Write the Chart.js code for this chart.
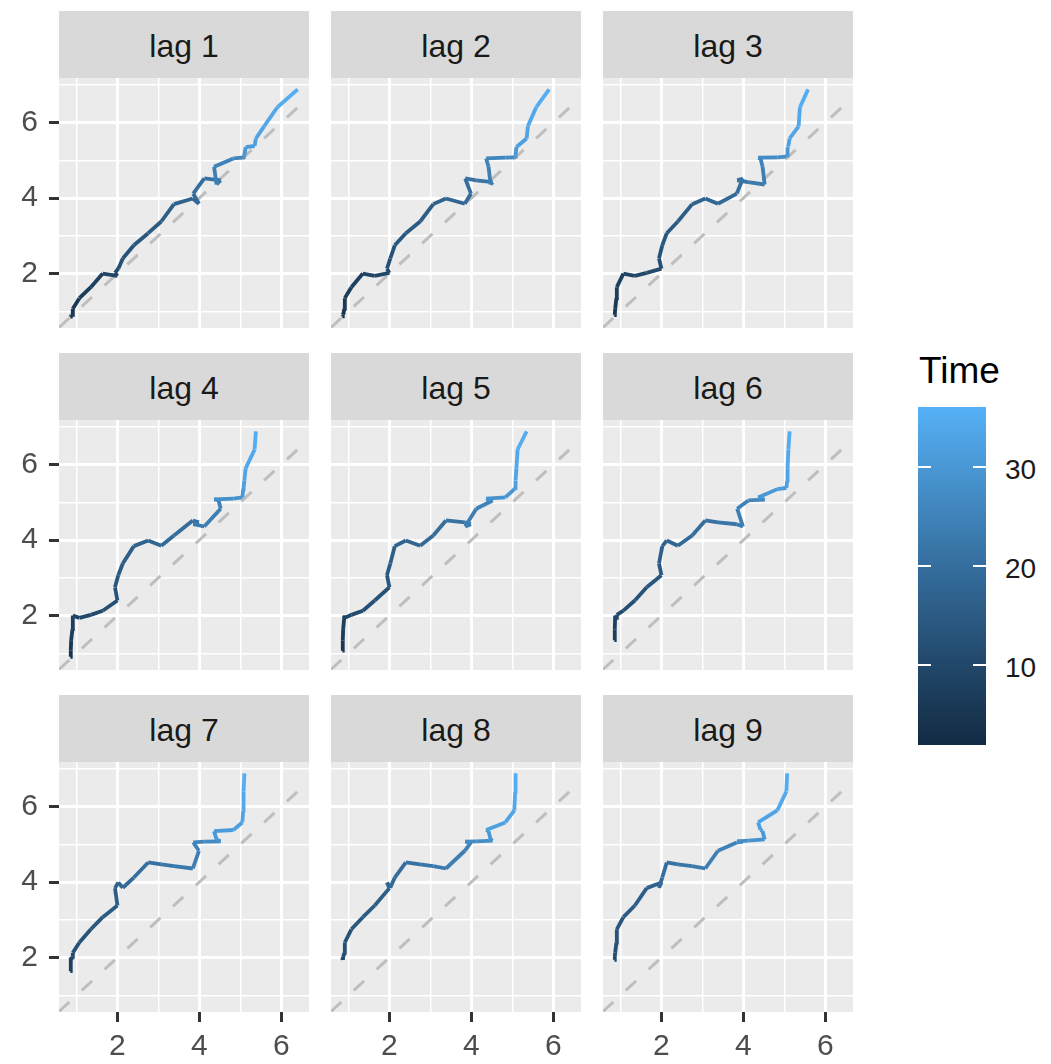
<!DOCTYPE html>
<html>
<head>
<meta charset="utf-8">
<script src="https://cdn.jsdelivr.net/npm/chart.js@4.4.1/dist/chart.umd.min.js"></script>
<style>
  body { margin: 0; background: #fff; }
  #figure { position: relative; width: 1051px; height: 1064px; overflow: hidden; font-family: "Liberation Sans", Arial, sans-serif; }
  .panel { position: absolute; }
  .strip { position: absolute; background: #D9D9D9; color: #1A1A1A; font-size: 32px; text-align: center; box-sizing: border-box; }
  .legend-title { position: absolute; font-size: 37px; line-height: 37px; color: #000; }
  .legend-bar { position: absolute; }
  .legend-tick { position: absolute; height: 2px; background: #fff; }
  .legend-label { position: absolute; font-size: 28px; line-height: 28px; color: #1A1A1A; }
</style>
</head>
<body>
<div id="figure"></div>
<script>
// Data
const timeIndex = [1, 2, 3, 4, 5, 6, 7, 8, 9, 10, 11, 12, 13, 14, 15, 16, 17, 18,
  19, 20, 21, 22, 23, 24, 25, 26, 27, 28, 29, 30, 31, 32, 33, 34, 35, 36];
const series = [0.85, 0.86, 0.87, 0.90, 0.91, 1.07, 1.35, 1.64, 2.00, 1.94, 2.02, 2.13,
  2.40, 2.75, 3.07, 3.38, 3.84, 3.99, 3.85, 4.12, 4.52, 4.47, 4.42, 4.36,
  4.83, 5.05, 5.07, 5.08, 5.10, 5.13, 5.35, 5.38, 5.58, 5.90, 6.40, 6.88];
const lags = [1, 2, 3, 4, 5, 6, 7, 8, 9];
const axisBreaks = [2, 4, 6];
const minorBreaks = [1, 3, 5, 7];
const legendBreaks = [10, 20, 30];
const legendTitle = "Time";

// Layout
const COL_LEFT = [59, 331, 603];
const ROW_TOP = [78, 420, 762];
const PANEL_W = 250;
const PANEL_H = 250;
const STRIP_H = 67;
const Y_AXIS_W = 59;
const X_AXIS_H = 52;
const LOW = "#132B43";
const HIGH = "#56B1F7";

Chart.defaults.font.family = '"Liberation Sans", Arial, sans-serif';

// Colour helpers (ggplot gradient is interpolated in Lab)
const lin = (c) => (c <= 0.04045 ? c / 12.92 : Math.pow((c + 0.055) / 1.055, 2.4));
const unlin = (c) => (c <= 0.0031308 ? 12.92 * c : 1.055 * Math.pow(c, 1 / 2.4) - 0.055);
const toLab = (hex) => {
  const [r, g, b] = [1, 3, 5].map((i) => lin(parseInt(hex.slice(i, i + 2), 16) / 255));
  const X = (0.4124564 * r + 0.3575761 * g + 0.1804375 * b) / 0.95047;
  const Y = 0.2126729 * r + 0.7151522 * g + 0.072175 * b;
  const Z = (0.0193339 * r + 0.119192 * g + 0.9503041 * b) / 1.08883;
  const f = (t) => (t > 216 / 24389 ? Math.cbrt(t) : (24389 / 27 * t + 16) / 116);
  return [116 * f(Y) - 16, 500 * (f(X) - f(Y)), 200 * (f(Y) - f(Z))];
};
const fromLab = ([L, a, bb]) => {
  const fy = (L + 16) / 116;
  const fx = fy + a / 500;
  const fz = fy - bb / 200;
  const inv = (t) => (t ** 3 > 216 / 24389 ? t ** 3 : (116 * t - 16) / (24389 / 27));
  const X = inv(fx) * 0.95047, Y = inv(fy), Z = inv(fz) * 1.08883;
  const rgb = [
    3.2404542 * X - 1.5371385 * Y - 0.4985314 * Z,
    -0.969266 * X + 1.8760108 * Y + 0.041556 * Z,
    0.0556434 * X - 0.2040259 * Y + 1.0572252 * Z
  ];
  return `rgb(${rgb.map((c) => Math.round(Math.min(1, Math.max(0, unlin(c))) * 255)).join(",")})`;
};
const lowLab = toLab(LOW);
const highLab = toLab(HIGH);

// Lag pairs: x = value at t, y = value at t + lag, coloured by time of y
const lagPairs = (lag) => series.slice(0, series.length - lag).map((v, i) => ({
  x: v, y: series[i + lag], time: timeIndex[i + lag]
}));
const panels = lags.map((lag) => ({ lag, points: lagPairs(lag) }));

const allPoints = panels.flatMap((p) => p.points);
const expand = (vals) => {
  const lo = Math.min(...vals), hi = Math.max(...vals);
  const pad = (hi - lo) * 0.05;
  return [lo - pad, hi + pad];
};
const xLim = expand(allPoints.map((p) => p.x));
const yLim = expand(allPoints.map((p) => p.y));
const timeLim = [Math.min(...allPoints.map((p) => p.time)), Math.max(...allPoints.map((p) => p.time))];

const colourAt = (v) => {
  const t = (v - timeLim[0]) / (timeLim[1] - timeLim[0]);
  return fromLab(lowLab.map((c, i) => c + (highLab[i] - c) * t));
};

const isMajor = (v) => axisBreaks.includes(v);
const gridTicks = (scale) => [...minorBreaks, ...axisBreaks]
  .filter((v) => v >= scale.min && v <= scale.max)
  .sort((a, b) => a - b)
  .map((v) => ({ value: v }));

const panelBg = {
  id: "panelBg",
  beforeDraw(chart) {
    const { ctx, chartArea: a } = chart;
    ctx.save();
    ctx.fillStyle = "#EBEBEB";
    ctx.fillRect(a.left, a.top, a.right - a.left, a.bottom - a.top);
    ctx.restore();
  }
};

const fig = document.getElementById("figure");

const axisOptions = (lim, showLabels, fitSize, horizontal) => ({
  type: "linear",
  min: lim[0],
  max: lim[1],
  afterBuildTicks: (s) => { s.ticks = gridTicks(s); },
  afterFit: (s) => {
    if (horizontal) s.height = fitSize; else s.width = fitSize;
    s.paddingTop = 0;
    s.paddingBottom = 0;
    s.paddingLeft = 0;
    s.paddingRight = 0;
  },
  border: { display: false },
  grid: {
    color: "#FFFFFF",
    lineWidth: (ctx) => (isMajor(ctx.tick.value) ? 3 : 1.5),
    drawTicks: showLabels,
    tickLength: 10,
    tickWidth: 3,
    tickColor: (ctx) => (isMajor(ctx.tick.value) ? "#333333" : "rgba(0,0,0,0)")
  },
  ticks: {
    display: showLabels,
    autoSkip: false,
    maxRotation: 0,
    padding: horizontal ? 7 : 11,
    color: "#4D4D4D",
    font: { size: 30 },
    callback: (v) => (isMajor(v) ? String(v) : "")
  }
});

panels.forEach((panel, idx) => {
  const r = Math.floor(idx / 3);
  const c = idx % 3;
  const left = c === 0 ? COL_LEFT[0] - Y_AXIS_W : COL_LEFT[c];
  const w = PANEL_W + (c === 0 ? Y_AXIS_W : 0);
  const h = PANEL_H + (r === 2 ? X_AXIS_H : 0);

  const strip = document.createElement("div");
  strip.className = "strip";
  strip.style.left = `${COL_LEFT[c]}px`;
  strip.style.top = `${ROW_TOP[r] - STRIP_H}px`;
  strip.style.width = `${PANEL_W}px`;
  strip.style.height = `${STRIP_H}px`;
  strip.style.lineHeight = `${STRIP_H}px`;
  strip.style.paddingTop = "2px";
  strip.textContent = `lag ${panel.lag}`;
  fig.appendChild(strip);

  const box = document.createElement("div");
  box.className = "panel";
  box.style.left = `${left}px`;
  box.style.top = `${ROW_TOP[r]}px`;
  const canvas = document.createElement("canvas");
  canvas.width = w;
  canvas.height = h;
  canvas.style.width = `${w}px`;
  canvas.style.height = `${h}px`;
  box.appendChild(canvas);
  fig.appendChild(box);

  const segColours = panel.points.map((p) => colourAt(p.time));

  new Chart(canvas.getContext("2d"), {
    type: "scatter",
    data: {
      datasets: [
        {
          label: `lag ${panel.lag}`,
          data: panel.points,
          showLine: true,
          borderWidth: 3.8,
          borderColor: segColours[0],
          pointRadius: 0,
          pointHoverRadius: 0,
          order: 0,
          segment: { borderColor: (ctx) => segColours[ctx.p0DataIndex] }
        },
        {
          label: "diagonal",
          data: [{ x: xLim[0], y: xLim[0] }, { x: xLim[1], y: xLim[1] }],
          showLine: true,
          borderWidth: 3,
          borderColor: "#BEBEBE",
          borderDash: [14, 17],
          pointRadius: 0,
          pointHoverRadius: 0,
          order: 1
        }
      ]
    },
    options: {
      responsive: false,
      maintainAspectRatio: false,
      animation: false,
      events: [],
      layout: { padding: 0 },
      plugins: { legend: { display: false }, tooltip: { enabled: false } },
      scales: {
        x: axisOptions(xLim, r === 2, r === 2 ? X_AXIS_H : 0, true),
        y: axisOptions(yLim, c === 0, c === 0 ? Y_AXIS_W : 0, false)
      }
    },
    plugins: [panelBg]
  });
});

// Colour bar legend
const BAR = { left: 918, top: 407, width: 68, height: 338 };
const legendY = (v) => BAR.top + BAR.height * (1 - (v - timeLim[0]) / (timeLim[1] - timeLim[0]));

const title = document.createElement("div");
title.className = "legend-title";
title.style.left = "919px";
title.style.top = "352px";
title.textContent = legendTitle;
fig.appendChild(title);

const stops = [];
for (let i = 0; i <= 20; i++) {
  const v = timeLim[0] + (timeLim[1] - timeLim[0]) * (i / 20);
  stops.push(`${colourAt(v)} ${(i / 20) * 100}%`);
}
const bar = document.createElement("div");
bar.className = "legend-bar";
Object.assign(bar.style, {
  left: `${BAR.left}px`, top: `${BAR.top}px`, width: `${BAR.width}px`, height: `${BAR.height}px`,
  background: `linear-gradient(to top, ${stops.join(", ")})`
});
fig.appendChild(bar);

legendBreaks.forEach((v) => {
  const y = legendY(v);
  [BAR.left, BAR.left + BAR.width - 13].forEach((x) => {
    const t = document.createElement("div");
    t.className = "legend-tick";
    Object.assign(t.style, { left: `${x}px`, top: `${y - 1}px`, width: "13px" });
    fig.appendChild(t);
  });
  const lab = document.createElement("div");
  lab.className = "legend-label";
  Object.assign(lab.style, { left: "1005px", top: `${y - 11}px` });
  lab.textContent = String(v);
  fig.appendChild(lab);
});
</script>
</body>
</html>
